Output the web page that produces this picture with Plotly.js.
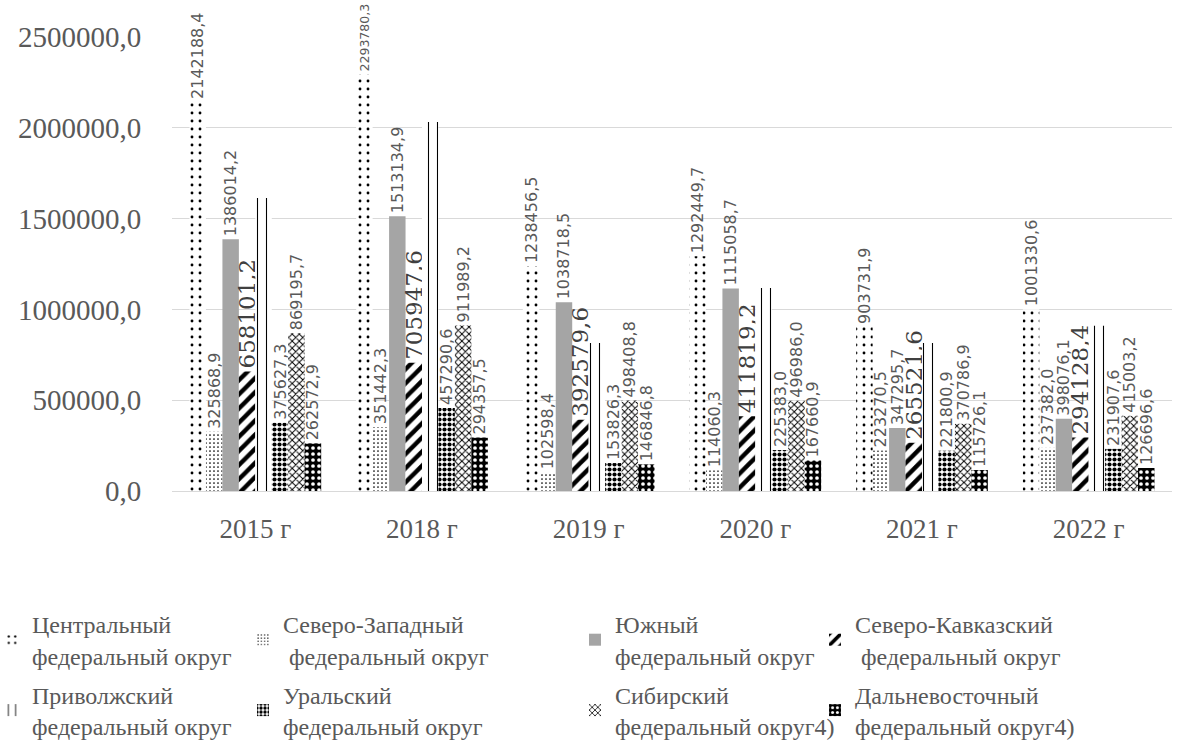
<!DOCTYPE html>
<html>
<head>
<meta charset="utf-8">
<script src="https://cdn.plot.ly/plotly-3.0.1.min.js"></script>
<style>html,body{margin:0;padding:0;background:#fff;}#chart{width:1183px;height:749px;}</style>
</head>
<body>
<div id="chart"></div>
<script>
// ---- data ----
const years = ["2015 г", "2018 г", "2019 г", "2020 г", "2021 г", "2022 г"];
const central   = [2142188.4, 2293780.3, 1238456.5, 1292449.7, 903731.9, 1001330.6];
const northWest = [325868.9, 351442.3, 102598.4, 114060.3, 223270.5, 237382.0];
const south     = [1386014.2, 1513134.9, 1038718.5, 1115058.7, 347295.7, 398076.1];
const northCauc = [658101.2, 705947.6, 392579.6, 411819.2, 265521.6, 294128.4];
const volga     = [1613000, 2032000, 815000, 1118000, 815000, 910000]; // no labels in source
const ural      = [375627.3, 457290.6, 153826.3, 225383.0, 221800.9, 231907.6];
const siberia   = [869195.7, 911989.2, 498408.8, 496986.0, 370786.9, 415003.2];
const farEast   = [262572.9, 294357.5, 146846.8, 167660.9, 115726.1, 126696.6];

const names = [
  "Центральный<br>федеральный округ",
  "Северо-Западный<br>\u00a0федеральный округ",
  "Южный<br>федеральный округ",
  "Северо-Кавказский<br>\u00a0федеральный округ",
  "Приволжский<br>федеральный округ",
  "Уральский<br>федеральный округ",
  "Сибирский<br>федеральный округ4)",
  "Дальневосточный<br>федеральный округ4)"
];
const yTickVals = [0, 500000, 1000000, 1500000, 2000000, 2500000];

// ---- styles ----
const SERIF = "Liberation Serif, Times New Roman, serif";
const labelFont = {family: "DejaVu Sans", size: 16, color: "#595959"};
const bigLabelFont = {family: "DejaVu Serif", size: 23, color: "#404040"};
// the tallest label gets a slightly smaller font so it stays on the page
const centralFont = {family: "DejaVu Sans", size: central.map(v => v > 2200000 ? 12.5 : 16), color: "#595959"};
const styles = [
  {pattern: {shape: ".", fgcolor: "#000", bgcolor: "#fff", size: 8, solidity: 0.1}, color: "#fff", font: centralFont, legend: "legend"},
  {pattern: {shape: ".", fgcolor: "#000", bgcolor: "#fff", size: 4, solidity: 0.15}, color: "#fff", font: labelFont, legend: "legend2"},
  {pattern: null, color: "#a5a5a5", font: labelFont, legend: "legend3"},
  {pattern: {shape: "/", fgcolor: "#000", bgcolor: "#fff", size: 10, solidity: 0.45}, color: "#fff", font: bigLabelFont, legend: "legend4"},
  {pattern: {shape: "|", fgcolor: "#000", bgcolor: "#fff", size: 9, solidity: 0.12}, color: "#fff", font: labelFont, legend: "legend", noText: true},
  {pattern: {shape: ".", fgcolor: "#000", bgcolor: "#fff", size: 5, solidity: 0.55}, color: "#fff", font: labelFont, legend: "legend2"},
  {pattern: {shape: "x", fgcolor: "#000", bgcolor: "#fff", size: 5, solidity: 0.35}, color: "#fff", font: labelFont, legend: "legend3"},
  {pattern: {shape: ".", fgcolor: "#fff", bgcolor: "#000", size: 6, solidity: 0.3}, color: "#000", font: labelFont, legend: "legend4"}
];
const series = [central, northWest, south, northCauc, volga, ural, siberia, farEast];

const traces = series.map((vals, i) => {
  const s = styles[i];
  const marker = {color: s.color, line: {width: 0}};
  if (s.pattern) marker.pattern = s.pattern;
  return {
    type: "bar",
    name: names[i],
    x: years,
    y: vals,
    marker: marker,
    texttemplate: s.noText ? "" : "%{y:.1f}",
    textposition: s.noText ? "none" : "outside",
    textangle: -90,
    textfont: s.font,
    outsidetextfont: s.font,
    cliponaxis: false,
    constraintext: "none",
    legend: s.legend,
    legendgroup: "g" + i,
    hoverinfo: "x+y+name"
  };
});

function legendAt(textStartPx) {
  const left = Math.max(0, textStartPx - 40);
  return {
    orientation: "v", yanchor: "top", xanchor: "left",
    xref: "container", yref: "container",
    x: left / 1183, y: 1 - 602 / 749,
    indentation: Math.max(-15, (textStartPx - 40) - left),
    font: {family: SERIF, size: 24, color: "#595959"},
    bgcolor: "rgba(0,0,0,0)", borderwidth: 0, tracegroupgap: 5
  };
}

const layout = {
  width: 1183,
  height: 749,
  margin: {l: 172, r: 11, t: 37, b: 258, autoexpand: false},
  font: {family: SERIF, size: 24, color: "#595959"},
  paper_bgcolor: "#fff",
  plot_bgcolor: "#fff",
  separators: ", ",
  barmode: "group",
  bargap: 0.21,
  bargroupgap: 0,
  showlegend: true,
  xaxis: {
    type: "category",
    showline: true,
    linecolor: "#d9d9d9",
    linewidth: 1,
    ticks: "",
    tickfont: {family: SERIF, size: 27, color: "#595959"},
    ticklabelstandoff: 14,
    showgrid: false,
    zeroline: false
  },
  yaxis: {
    range: [0, 2500000],
    tickvals: yTickVals,
    tickformat: ".1f",
    gridcolor: "#d9d9d9",
    gridwidth: 1,
    zeroline: false,
    showline: false,
    ticks: "outside",
    ticklen: 24,
    tickcolor: "rgba(0,0,0,0)",
    tickfont: {family: SERIF, size: 29, color: "#595959"}
  },
  legend:  legendAt(32),
  legend2: legendAt(283),
  legend3: legendAt(615),
  legend4: legendAt(855)
};

Plotly.newPlot("chart", traces, layout, {displayModeBar: false, staticPlot: true});
</script>
</body>
</html>
